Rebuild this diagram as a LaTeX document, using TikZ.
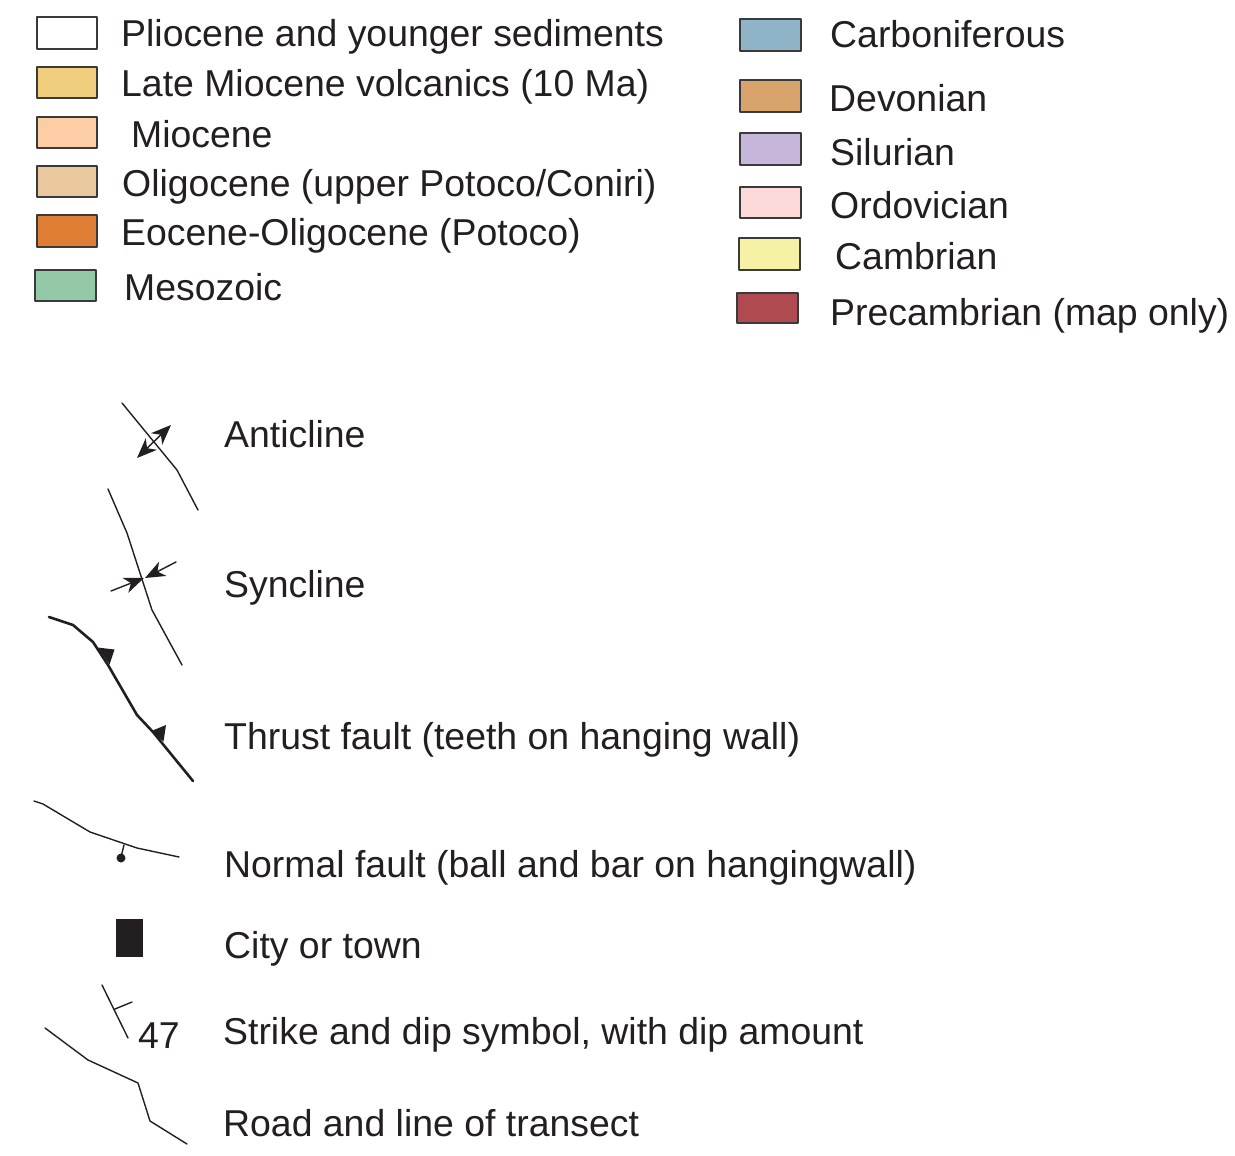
\documentclass[tikz,border=0pt]{standalone}
\usepackage{fontspec}
\setmainfont{Liberation Sans}
\usetikzlibrary{arrows.meta}

\definecolor{txt}{HTML}{231F20}
\definecolor{boxline}{HTML}{3A3A3A}
\definecolor{colvolc}{HTML}{F1CD7E}
\definecolor{colmio}{HTML}{FDCDA6}
\definecolor{cololig}{HTML}{E8C89C}
\definecolor{coleoc}{HTML}{E07E36}
\definecolor{colmeso}{HTML}{94C9A8}
\definecolor{colcarb}{HTML}{8FB4C8}
\definecolor{coldev}{HTML}{D9A36C}
\definecolor{colsil}{HTML}{C6B6D9}
\definecolor{colord}{HTML}{FCDADA}
\definecolor{colcamb}{HTML}{F7F1A6}
\definecolor{colprec}{HTML}{B04A51}

\begin{document}
\begin{tikzpicture}[x=1pt,y=-1pt,line join=round,line cap=round,
	lbl/.style={anchor=base west,inner sep=0pt,font=\fontsize{37.4}{44}\selectfont,text=txt},
	unit/.style={draw=boxline,line width=1.5pt},
	thin line/.style={txt,line width=1.4pt},
	fold arrow/.style={arrows={-Stealth[length=20pt,width=16pt,inset=6pt]}},
	fold arrows/.style={arrows={Stealth[length=20pt,width=16pt,inset=6pt]-Stealth[length=20pt,width=16pt,inset=6pt]}}]
	\useasboundingbox (0,0) rectangle (1235,1156);
	
	% rock units, left column
	\draw[unit,fill=white] (37,17) rectangle (97,49);
	\draw[unit,fill=colvolc] (37,67) rectangle (97,98);
	\draw[unit,fill=colmio] (37,117) rectangle (97,148);
	\draw[unit,fill=cololig] (37,166) rectangle (97,197);
	\draw[unit,fill=coleoc] (37,215) rectangle (97,247);
	\draw[unit,fill=colmeso] (35,270) rectangle (96,301);
	\node[lbl] (plio) at (121,47) {Pliocene and younger sediments};
	\node[lbl] (volc) at (121,96) {Late Miocene volcanics (10 Ma)};
	\node[lbl] (mio) at (131,147) {Miocene};
	\node[lbl] (olig) at (122,196) {Oligocene (upper Potoco/Coniri)};
	\node[lbl] (eoc) at (121,245) {Eocene-Oligocene (Potoco)};
	\node[lbl] (meso) at (124,300) {Mesozoic};
	
	% rock units, right column
	\draw[unit,fill=colcarb] (740,19) rectangle (801,51);
	\draw[unit,fill=coldev] (740,80) rectangle (801,112);
	\draw[unit,fill=colsil] (740,133) rectangle (801,165);
	\draw[unit,fill=colord] (740,187) rectangle (801,218);
	\draw[unit,fill=colcamb] (739,238) rectangle (800,270);
	\draw[unit,fill=colprec] (737,293) rectangle (798,323);
	\node[lbl] (carb) at (830,48) {Carboniferous};
	\node[lbl] (dev) at (829,111) {Devonian};
	\node[lbl] (sil) at (830,165) {Silurian};
	\node[lbl] (ord) at (830,218) {Ordovician};
	\node[lbl] (camb) at (835,269) {Cambrian};
	\node[lbl] (prec) at (830,325) {Precambrian (map only)};
	
	% structural symbols
	\draw[thin line] (122,403)--(177,470)--(198,510);
	\draw[thin line,fold arrows] (137,458)--(171,425);
	\node[lbl] (anti) at (224,447) {Anticline};
	
	\draw[thin line] (108,489)--(127,533)--(152,610)--(182,665);
	\draw[thin line,fold arrow] (111,591)--(144,578);
	\draw[thin line,fold arrow] (176,562)--(145,578);
	\node[lbl] (syn) at (224,597) {Syncline};
	
	\draw[txt,line width=2.6pt] (49,617)--(73,625)--(93,642)--(108,665)--(137,715)--(153,732)--(193,781);
	\fill[txt] (97.5,647.5)--(114.5,649.5)--(109.5,664.5)--cycle
		(151.5,731)--(166,725)--(163.5,741.5)--cycle;
	\node[lbl] (thrust) at (224,749) {Thrust fault (teeth on hanging wall)};
	
	\draw[thin line] (34,801)--(43,804)--(90,832)--(137,848)--(179,857);
	\draw[thin line] (124,845)--(121,857);
	\fill[txt] (121,858) circle (4.5);
	\node[lbl] (normal) at (224,877) {Normal fault (ball and bar on hangingwall)};
	
	\fill[txt] (116,919) rectangle (143,957);
	\node[lbl] (city) at (224,958) {City or town};
	
	\draw[thin line] (102,985)--(128,1038) (115,1009)--(132,1002);
	\node[lbl] (dip) at (138,1048) {47};
	\node[lbl] (strike) at (223,1044) {Strike and dip symbol, with dip amount};
	
	\draw[thin line] (45,1028)--(88,1060)--(138,1083)--(150,1121)--(187,1144);
	\node[lbl] (road) at (223,1136) {Road and line of transect};
\end{tikzpicture}
\end{document}
